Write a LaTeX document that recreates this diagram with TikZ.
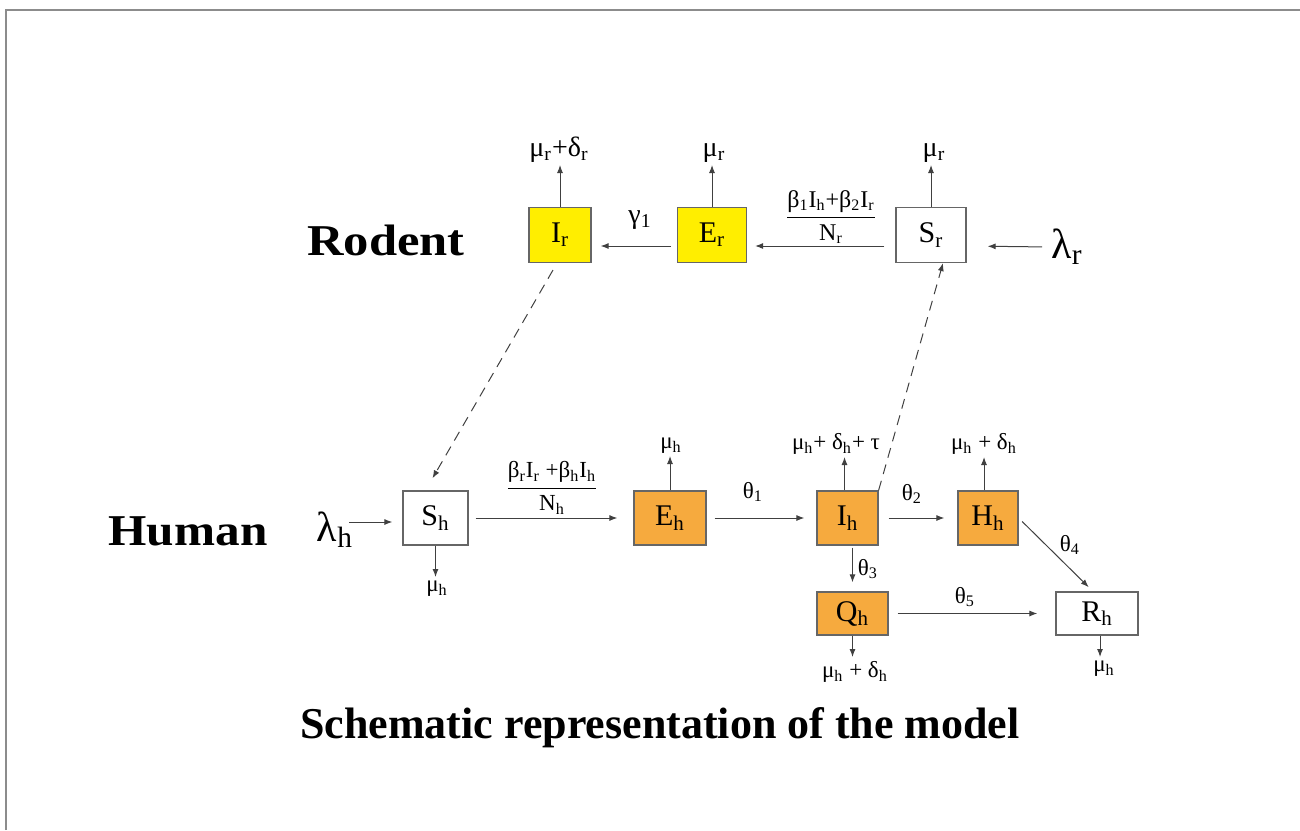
\documentclass[tikz,border=0pt]{standalone}
\usepackage{fontspec}
\setmainfont{Liberation Serif}
\usepackage{amsmath}
\usepackage{graphicx}
\usetikzlibrary{arrows.meta,positioning,calc}
\definecolor{rodentYellow}{RGB}{255,238,0}
\definecolor{humanOrange}{RGB}{246,170,62}
\definecolor{frameGray}{RGB}{140,140,140}
\newcommand{\ssub}[1]{\textsubscript{#1}}

\begin{document}
\begin{tikzpicture}[x=0.5pt, y=-0.5pt,
    comp/.style={draw=black!60, line width=0.6pt, inner sep=0pt,
      minimum height=27pt, font=\fontsize{15}{18}\selectfont},
    rbox/.style={comp, fill=rodentYellow},
    hbox/.style={comp, fill=humanOrange},
    wbox/.style={comp, fill=white},
    arr/.style={-{Latex[length=4pt,width=3pt]}, black!75, line width=0.5pt},
    dasharr/.style={arr, dash pattern=on 5pt off 3.5pt},
    rlab/.style={font=\fontsize{14}{16}\selectfont, inner sep=1pt},
    hlab/.style={font=\fontsize{11.5}{14}\selectfont, inner sep=1pt},
    group/.style={font=\fontsize{22}{26}\selectfont\bfseries, anchor=base},
    inflow/.style={font=\fontsize{21}{24}\selectfont, inner sep=1pt}
  ]
  \useasboundingbox (0,0) rectangle (1300,830);
  % Frame
  \draw[frameGray, line width=1.2pt] (6,830) -- (6,10) -- (1300,10);

  % Group titles
  \node[group] (rodent) at (386,255) {\scalebox{1.15}[1]{Rodent}};
  \node[group] (human) at (188,545) {\scalebox{1.12}[1]{Human}};
  \node[group] (caption) at (660,738) {Schematic representation of the model};

  % Rodent compartments
  \node[rbox, minimum width=31pt, minimum height=27.5pt] (Ir) at (560,235) {I\ssub{r}};
  \node[rbox, minimum width=34.5pt, minimum height=27.5pt] (Er) at (712,235) {E\ssub{r}};
  \node[wbox, minimum width=35pt, minimum height=27.5pt] (Sr) at (931,235) {S\ssub{r}};

  % Human compartments
  \node[wbox, minimum width=32.5pt] (Sh) at (435.5,518) {S\ssub{h}};
  \node[hbox, minimum width=36pt] (Eh) at (670,518) {E\ssub{h}};
  \node[hbox, minimum width=30.5pt] (Ih) at (847.5,518) {I\ssub{h}};
  \node[hbox, minimum width=30pt] (Hh) at (988,518) {H\ssub{h}};
  \node[hbox, minimum width=35.5pt, minimum height=21.5pt] (Qh) at (852.5,613.5) {Q\ssub{h}};
  \node[wbox, minimum width=41pt, minimum height=21.5pt] (Rh) at (1097,613.5) {R\ssub{h}};

  % Recruitment
  \node[inflow] (lamR) at (1067,247) {λ\ssub{r}};
  \node[inflow] (lamH) at (335,530) {λ\ssub{h}};

  % Exit rates
  \node[rlab, anchor=south] (outIr) at (559,165) {μ\ssub{r}+δ\ssub{r}};
  \node[rlab, anchor=south] (outEr) at (714,165) {μ\ssub{r}};
  \node[rlab, anchor=south] (outSr) at (934,165) {μ\ssub{r}};
  \node[hlab, anchor=south] (outEh) at (671,456) {μ\ssub{h}};
  \node[hlab, anchor=south] (outIh) at (836,457) {μ\ssub{h}+ δ\ssub{h}+ τ};
  \node[hlab, anchor=south] (outHh) at (984,457) {μ\ssub{h} + δ\ssub{h}};
  \node[hlab, anchor=north] (outSh) at (437,579) {μ\ssub{h}};
  \node[hlab, anchor=north] (outQh) at (855,659) {μ\ssub{h} + δ\ssub{h}};
  \node[hlab, anchor=north] (outRh) at (1104,659) {μ\ssub{h}};

  % Transfer rates
  \node[rlab] (gam) at (640,220) {γ\ssub{1}};
  \node[font=\fontsize{12}{14}\selectfont] (forceR) at (831,217)
    {$\dfrac{\mbox{β\ssub{1}I\ssub{h}+β\ssub{2}I\ssub{r}}}{\mbox{N\ssub{r}}}$};
  \node[font=\fontsize{11.5}{14}\selectfont] (forceH) at (552,488)
    {$\dfrac{\mbox{β\ssub{r}I\ssub{r} +β\ssub{h}I\ssub{h}}}{\mbox{N\ssub{h}}}$};
  \node[hlab] (th1) at (753,492) {θ\ssub{1}};
  \node[hlab] (th2) at (912,494) {θ\ssub{2}};
  \node[hlab] (th3) at (868,569) {θ\ssub{3}};
  \node[hlab] (th4) at (1070,545) {θ\ssub{4}};
  \node[hlab] (th5) at (965,597) {θ\ssub{5}};

  % Rodent flows
  \draw[arr, shorten <=3.5pt, shorten >=10.5pt] (lamR.west) -- ([yshift=-5.5pt]Sr.east);
  \draw[arr, shorten <=5.5pt, shorten >=4pt] ([yshift=-5.5pt]Sr.west) -- ([yshift=-5.5pt]Er.east);
  \draw[arr, shorten <=3pt, shorten >=4.5pt] ([yshift=-5.5pt]Er.west) -- ([yshift=-5.5pt]Ir.east);
  \draw[arr] (Ir.north) -- (Ir.north |- outIr.south);
  \draw[arr] (Er.north) -- (Er.north |- outEr.south);
  \draw[arr] (Sr.north) -- (Sr.north |- outSr.south);

  % Human flows
  \draw[arr, shorten >=5pt] ([xshift=-3pt,yshift=4pt]lamH.east) -- ([yshift=-2pt]Sh.west);
  \draw[arr, shorten <=3.5pt, shorten >=8pt] (Sh) -- (Eh);
  \draw[arr, shorten <=4pt, shorten >=6pt] (Eh) -- (Ih);
  \draw[arr, shorten <=5pt, shorten >=6.5pt] (Ih) -- (Hh);
  \draw[arr, shorten <=2.5pt, shorten >=3pt] (Hh.east) -- ([xshift=-2pt]Rh.north);
  \draw[arr, shorten <=1pt, shorten >=4.5pt] (Ih.south -| Qh) -- (Qh.north);
  \draw[arr, shorten <=4.5pt, shorten >=9pt] (Qh) -- (Rh);
  \draw[arr] (Eh.north) -- (Eh.north |- outEh.south);
  \draw[arr] ([xshift=-1.5pt]Ih.north) -- ([xshift=-1.5pt]Ih.north |- outIh.south);
  \draw[arr] (Hh.north -| outHh) -- (outHh.south);
  \draw[arr, shorten >=1pt] (Sh.south) -- (Sh.south |- outSh.north);
  \draw[arr, shorten >=1pt] (Qh.south) -- (Qh.south |- outQh.north);
  \draw[arr, shorten >=1pt] ([xshift=1.5pt]Rh.south) -- ([xshift=1.5pt]Rh.south |- outRh.north);

  % Cross-species infection
  \draw[dasharr, shorten <=4pt, shorten >=7pt] ([xshift=-1.5pt]Ir.south) -- ([xshift=-5pt]Sh.north);
  \draw[dasharr] (Ih.north east) -- ([xshift=6pt]Sr.south);
\end{tikzpicture}
\end{document}
